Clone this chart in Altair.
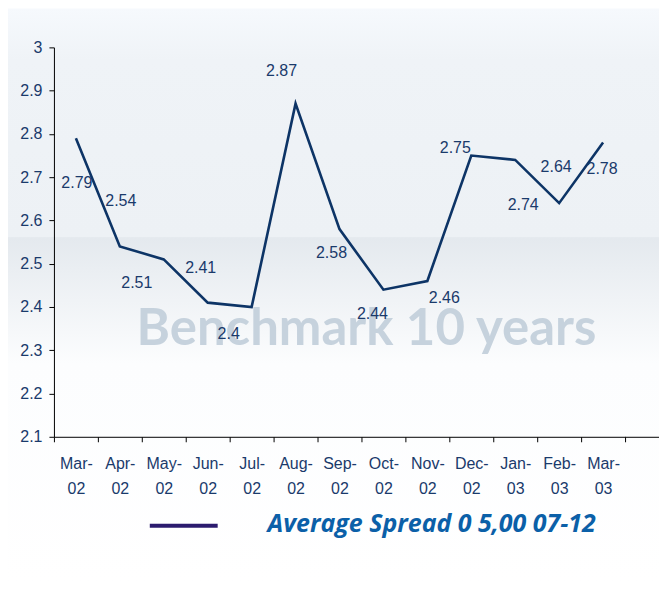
import altair as alt
import pandas as pd

# ---- data ----
months = ["Mar-02", "Apr-02", "May-02", "Jun-02", "Jul-02", "Aug-02", "Sep-02",
          "Oct-02", "Nov-02", "Dec-02", "Jan-03", "Feb-03", "Mar-03"]
spread = [2.79, 2.54, 2.51, 2.41, 2.40, 2.87, 2.58, 2.44, 2.46, 2.75, 2.74, 2.64, 2.78]
# label offsets (pixels) relative to each point, as placed in the original
label_dx = [1, 1, -27, -7, -23, -14, -8, -11, 17, -16, 8, -3, -1]
label_dy = [45, -45, 24, -35, 27, -33, 24, 24, 17, -8, 45, -36, 26]
y_ticks = [2.1, 2.2, 2.3, 2.4, 2.5, 2.6, 2.7, 2.8, 2.9, 3.0]
series_name = "Average Spread 0 5,00 07-12"
watermark = "Benchmark 10 years"

df = pd.DataFrame({"month": months, "spread": spread, "i": list(range(len(months)))})

W, H = 572, 390
EXT = 34  # axis line continues past the last band
NAVY = "#0d3466"
LABEL = "#1a3a6b"
FONT = "Liberation Sans"

x_enc = alt.X(
    "month:N", sort=None, bandPosition=0.5, title=None,
    scale=alt.Scale(type="band", domain=months, paddingInner=0, paddingOuter=0),
    axis=alt.Axis(
        tickBand="extent", ticks=True, tickSize=5, tickColor="#000000",
        domainColor="#000000", domainWidth=1, labelAngle=0, zindex=1,
        labelExpr="datum.value ? [split(datum.value, '-')[0] + '-', split(datum.value, '-')[1]] : ''",
        labelFont=FONT, labelFontSize=16, labelColor=LABEL, labelPadding=14,
        labelLineHeight=25, labelBaseline="top", grid=False, labelOverlap=False,
    ),
)
y_enc = alt.Y(
    "spread:Q", title=None,
    scale=alt.Scale(domain=[2.1, 3.0], nice=False, zero=False),
    axis=alt.Axis(
        values=y_ticks, format=".1~f", tickSize=5, tickColor="#000000",
        domainColor="#000000", domainWidth=1, labelFont=FONT, labelFontSize=16,
        labelColor=LABEL, labelPadding=7, grid=False, zindex=1,
    ),
)

one = alt.Data(values=[{}])

bg = alt.Chart(one).mark_rect(
    color=alt.LinearGradient(
        gradient="linear", x1=0, x2=0, y1=0, y2=1,
        stops=[
            alt.GradientStop(color="#f6f9fd", offset=0.0),
            alt.GradientStop(color="#eff3f7", offset=0.09),
            alt.GradientStop(color="#edf1f5", offset=0.398),
            alt.GradientStop(color="#e4e9ee", offset=0.40),
            alt.GradientStop(color="#f0f3f6", offset=0.51),
            alt.GradientStop(color="#fcfdfe", offset=0.62),
            alt.GradientStop(color="#ffffff", offset=1.0),
        ],
    )
).encode(x=alt.value(-46), x2=alt.value(W + EXT), y=alt.value(-39), y2=alt.value(535))

axis_ext = alt.Chart(one).mark_rule(color="#000000", strokeWidth=1).encode(
    x=alt.value(W), x2=alt.value(W + EXT), y=alt.value(H + 0.5)
)

wm = alt.Chart(one).mark_text(
    text=watermark, font="Lato", fontWeight="bold", fontSize=51,
    color="#c6d2dd", align="center", baseline="alphabetic",
).encode(x=alt.value(313), y=alt.value(298))

line = alt.Chart(df).mark_line(color=NAVY, strokeWidth=2.6).encode(x=x_enc, y=y_enc)

labels = []
for i in range(len(months)):
    labels.append(
        alt.Chart(df).transform_filter(alt.datum.i == i).mark_text(
            dx=label_dx[i], dy=label_dy[i], font=FONT, fontSize=16, color=LABEL,
            align="center", baseline="middle",
        ).encode(x=x_enc, y=y_enc, text=alt.Text("spread:Q", format=".2~f"))
    )

leg_line = alt.Chart(one).mark_rule(color="#2b1b6e", strokeWidth=4).encode(
    x=alt.value(96), x2=alt.value(164), y=alt.value(479)
)
leg_text = alt.Chart(one).mark_text(
    text=series_name, font="Open Sans", fontWeight="bold", fontStyle="italic",
    fontSize=25, color="#0b60a8", align="left", baseline="alphabetic",
).encode(x=alt.value(214), y=alt.value(485))

chart = alt.layer(bg, axis_ext, wm, line, *labels, leg_line, leg_text).properties(
    width=W, height=H, padding={"left": 0, "top": 0, "right": 0, "bottom": 0},
    background="#ffffff",
).configure_view(stroke=None)

chart.save("out.html", embed_options={"renderer": "svg", "actions": False})
